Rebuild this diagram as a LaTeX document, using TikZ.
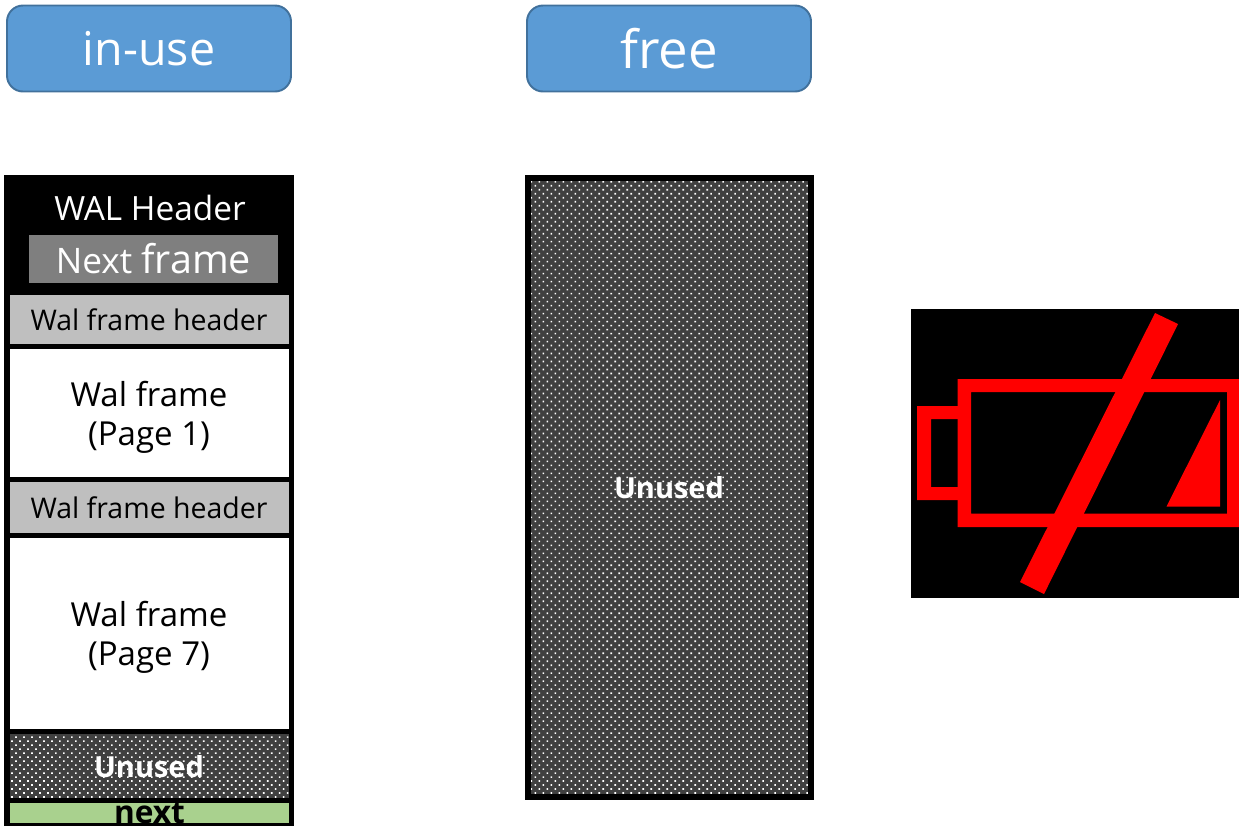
\documentclass[tikz,border=0pt]{standalone}
\usepackage{fontspec}
\setmainfont{Open Sans}
\usepackage{xcolor}
\usetikzlibrary{positioning,patterns.meta}
\definecolor{stateblue}{HTML}{5B9BD5}
\definecolor{stateedge}{HTML}{41719C}
\definecolor{hdrgray}{HTML}{BFBFBF}
\definecolor{nextgray}{HTML}{7F7F7F}
\definecolor{dotgray}{HTML}{404040}
\definecolor{nextgreen}{HTML}{A9D18E}
\tikzset{
  statebox/.style={draw=stateedge, line width=1.1pt, fill=stateblue, rounded corners=0.32cm, minimum width=5.68cm, minimum height=1.72cm, text=white, font=\fontsize{26.5}{28}\selectfont},
  framebox/.style={draw=black, line width=0.1cm, inner sep=0pt, outer sep=0pt, minimum width=5.68cm},
  hdrbox/.style={framebox, fill=hdrgray, font=\fontsize{16.2}{22}\selectfont},
  pagetxt/.style={align=center, inner sep=0pt, font=\fontsize{18.8}{22}\selectfont},
  unusedbox/.style={framebox, preaction={fill=dotgray}, pattern={Dots[radius=0.023cm, distance=0.113cm, angle=45]}, pattern color=white},
  unusedtxt/.style={text=white, font=\fontsize{16.5}{22}\selectfont\bfseries},
}
\begin{document}
\begin{tikzpicture}
  \useasboundingbox (0,0) rectangle (24.78,-16.5);
  % state labels
  \node[statebox] (inuse) at (2.98,-0.97) {in-use};
  \node[statebox, font=\fontsize{30}{30}\selectfont] (free) at (13.38,-0.97) {free};

  % in-use file
  \node[framebox, fill=black, minimum height=2.30cm, below=1.70cm of inuse.south, anchor=north] (walbox) {};
  \node[text=white, font=\fontsize{19}{22}\selectfont] (walhdr) at (3.0,-4.16) {WAL Header};
  \node[fill=nextgray, text=white, minimum width=4.98cm, minimum height=0.96cm, inner sep=0pt, font=\fontsize{20}{22}\selectfont] (nextframe) at (3.07,-5.18) {Next {\fontsize{22.5}{22}\selectfont frame}};
  \node[hdrbox, minimum height=1.09cm, below=0cm of walbox] (hdra) {Wal frame header};
  \node[framebox, fill=white, minimum height=2.65cm, below=0cm of hdra] (pagea) {};
  \node[pagetxt] (pageatxt) at ([yshift=-0.08cm]pagea) {Wal frame\\(Page 1)};
  \node[hdrbox, minimum height=1.12cm, below=0cm of pagea] (hdrb) {Wal frame header};
  \node[framebox, fill=white, minimum height=3.92cm, below=0cm of hdrb] (pageb) {};
  \node[pagetxt] (pagebtxt) at ([yshift=-0.08cm]pageb) {Wal frame\\(Page 7)};
  \node[unusedbox, minimum height=1.39cm, below=0cm of pageb] (unuseda) {};
  \node[unusedtxt] (unusedtxta) at (unuseda) {Unused};
  \node[framebox, fill=nextgreen, minimum height=0.49cm, below=0cm of unuseda] (nextbox) {};
  \node[anchor=base, inner sep=0pt, font=\fontsize{18}{22}\selectfont\bfseries] (nexttxt) at (2.99,-16.46) {next};

  % free file
  \node[unusedbox, line width=0.12cm, minimum width=5.66cm, minimum height=12.38cm, below=1.72cm of free.south, anchor=north] (unusedb) {};
  \node[unusedtxt] (unusedtxtb) at (unusedb) {Unused};

  % battery
  \fill[black] (18.22,-6.18) rectangle (24.78,-11.96);
  \fill[red, even odd rule] (19.15,-7.58) rectangle (24.78,-10.54) (19.42,-7.84) rectangle (24.54,-10.27);
  \fill[red, even odd rule] (18.34,-8.12) rectangle (19.16,-10.0) (18.62,-8.38) rectangle (19.16,-9.74);
  \fill[red] (24.4,-8.0) -- (24.4,-10.13) -- (23.33,-10.13) -- cycle;
  \fill[red] (23.1,-6.26) -- (23.56,-6.48) -- (20.88,-11.88) -- (20.4,-11.64) -- cycle;
\end{tikzpicture}
\end{document}
